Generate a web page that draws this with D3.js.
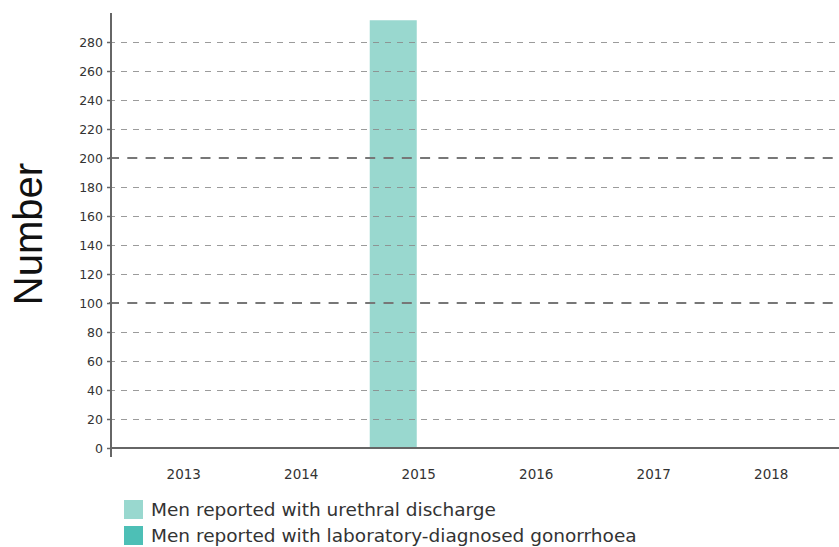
<!DOCTYPE html>
<html><head><meta charset="utf-8">
<script src="https://cdn.jsdelivr.net/npm/d3@7"></script>
<style>body{margin:0;background:#fff}svg{display:block}</style>
</head><body>
<svg id="c" width="839" height="547"></svg>
<script>
const years = ["2013","2014","2015","2016","2017","2018"];
const seriesNames = ["Men reported with urethral discharge","Men reported with laboratory-diagnosed gonorrhoea"];
const urethralDischarge = [null, null, 295, null, null, null];
const gonorrhoea = [null, null, null, null, null, null];
const yTicks = [0,20,40,60,80,100,120,140,160,180,200,220,240,260,280];
const colors = ["#99d8cf","#4dbfb6"];

const svg = d3.select("#c");
const W = 839;
const axisX = 111, y0px = 448, yTop = 13;
const y = d3.scaleLinear().domain([0, 280]).range([y0px, 42]);
const x = d3.scaleBand().domain(years).range([125, 830]).paddingInner(0.2).paddingOuter(0.1);
const xs = d3.scaleBand().domain([0,1]).range([0, x.bandwidth()]);

// bars
[urethralDischarge, gonorrhoea].forEach((vals, si) => {
  svg.append("g").selectAll("rect").data(years.map((yr,i)=>({yr, v: vals[i]})).filter(d=>d.v!=null))
    .join("rect")
    .attr("x", d => x(d.yr) + xs(si) - 2)
    .attr("y", d => y(d.v)).attr("width", xs.bandwidth()).attr("height", d => y0px - y(d.v))
    .attr("fill", colors[si]);
});

// gridlines (drawn over the bars, as in the reference)
const g = svg.append("g");
yTicks.filter(t => t > 0).forEach(t => {
  const major = t % 100 === 0;
  const yy = major ? y(t) : Math.round(y(t)) + 0.5;
  g.append("line").attr("x1", 109).attr("x2", W).attr("y1", yy).attr("y2", yy)
    .attr("stroke", major ? "#777" : "#8a8a8a").attr("stroke-width", major ? 2 : 1)
    .attr("stroke-opacity", major ? 1 : 0.85)
    .attr("stroke-dasharray", major ? "10,8.3" : "6,6");
});

// y axis
const ya = svg.append("g").attr("transform", `translate(${axisX},0)`)
  .call(d3.axisLeft(y).tickValues(yTicks).tickSize(4).tickPadding(4));
ya.select(".domain").remove();
ya.selectAll(".tick line").attr("stroke", "#666").attr("stroke-width", 1.5);
ya.selectAll("text").attr("font-family", "DejaVu Sans").attr("font-size", 12.5).attr("fill", "#333");
svg.append("line").attr("x1", axisX).attr("x2", axisX).attr("y1", yTop).attr("y2", 457)
  .attr("stroke", "#666").attr("stroke-width", 2);

// x axis
const xa = svg.append("g").attr("transform", `translate(0,${y0px})`)
  .call(d3.axisBottom(x).tickSize(0).tickPadding(21));
xa.select(".domain").remove();
xa.selectAll("text").attr("font-family", "DejaVu Sans").attr("font-size", 13.5).attr("fill", "#333");
svg.append("line").attr("x1", axisX).attr("x2", W).attr("y1", y0px).attr("y2", y0px)
  .attr("stroke", "#666").attr("stroke-width", 2);

// y title
svg.append("text").attr("transform", "translate(42,234) rotate(-90)")
  .attr("text-anchor", "middle").attr("font-family", "Liberation Sans").attr("font-size", 40)
  .attr("fill", "#111").text("Number");

// legend
const lg = svg.append("g");
seriesNames.forEach((n, i) => {
  lg.append("rect").attr("x", 124).attr("y", 500 + i*26).attr("width", 19).attr("height", 19).attr("fill", colors[i]);
  lg.append("text").attr("x", 151).attr("y", 516 + i*26).attr("font-family", "DejaVu Sans")
    .attr("font-size", 18.5).attr("fill", "#333").text(n);
});
</script>
</body></html>
